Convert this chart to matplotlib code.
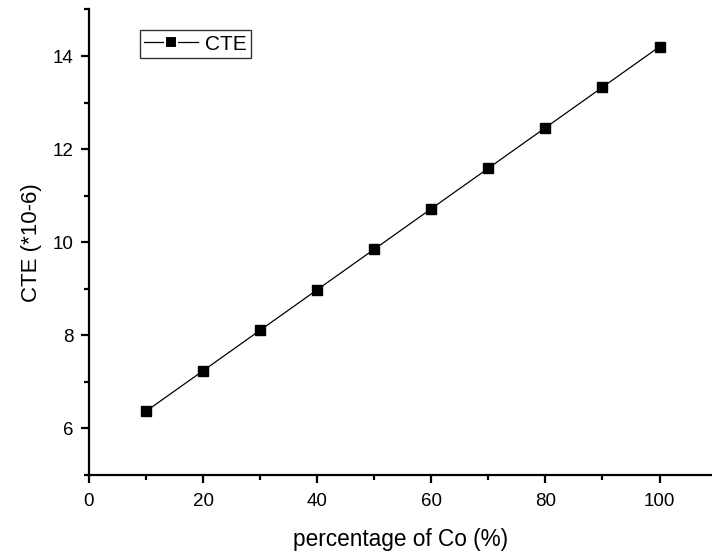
import matplotlib
matplotlib.use("Agg")
import matplotlib.pyplot as plt
from matplotlib.ticker import MultipleLocator

# data
co_percent = [10, 20, 30, 40, 50, 60, 70, 80, 90, 100]
cte_values = [6.37, 7.24, 8.11, 8.98, 9.85, 10.72, 11.59, 12.46, 13.33, 14.20]

plt.rcParams["font.family"] = ["Liberation Sans", "DejaVu Sans"]

fig = plt.figure(figsize=(7.12, 5.54), dpi=100)
ax = fig.add_axes([0.125, 0.1426, 0.875, 0.8403])

ax.plot(co_percent, cte_values, color="black", linewidth=0.9,
        marker="s", markersize=6.5, label="CTE")

ax.set_xlim(0, 109.2)
ax.set_ylim(5, 15)

ax.spines["top"].set_visible(False)
ax.spines["right"].set_visible(False)
ax.spines["left"].set_linewidth(1.6)
ax.spines["bottom"].set_linewidth(1.6)

ax.xaxis.set_major_locator(MultipleLocator(20))
ax.xaxis.set_minor_locator(MultipleLocator(10))
ax.yaxis.set_major_locator(MultipleLocator(2))
ax.yaxis.set_minor_locator(MultipleLocator(1))
ax.tick_params(which="major", direction="out", length=6, width=1.6,
               labelsize=13.5, pad=5)
ax.tick_params(axis="x", which="major", pad=7)
ax.tick_params(which="minor", direction="out", length=3.5, width=1.6)

ax.set_xlabel("percentage of Co (%)", fontsize=16.3, labelpad=13)
ax.set_ylabel("CTE (*10-6)", fontsize=16, labelpad=8)

leg = ax.legend(loc="upper left", bbox_to_anchor=(0.082, 0.955), fancybox=False,
                edgecolor="black", fontsize=15, handlelength=2.6,
                borderpad=0.2, handletextpad=0.3, borderaxespad=0)
leg.get_frame().set_linewidth(1.0)
# Origin-style legend symbol: small gap between the line and the square
for handle in leg.legend_handles:
    handle.set_markersize(8)
    handle.set_markeredgewidth(1.5)
    handle.set_markeredgecolor("white")

fig.savefig("out.png", dpi=100)
plt.close(fig)
